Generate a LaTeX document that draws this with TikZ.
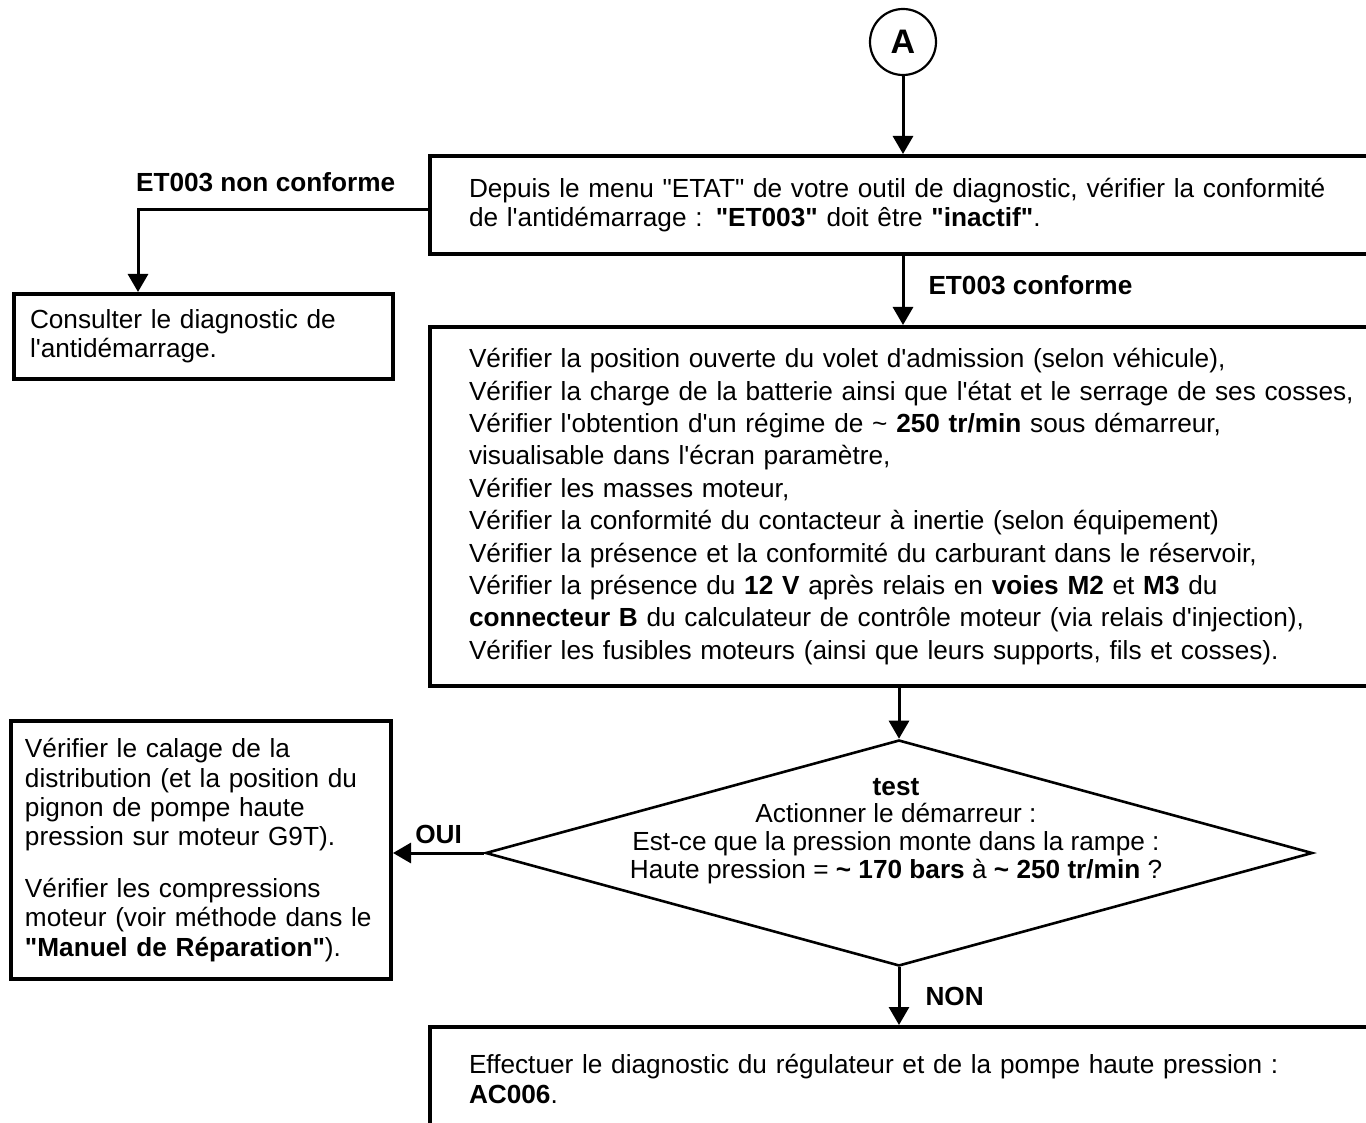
\documentclass[tikz,border=0pt]{standalone}
\usepackage{fontspec}
\setmainfont{Liberation Sans}[Ligatures=TeXOff]
\usetikzlibrary{arrows.meta,positioning,shapes.geometric}

\begin{document}
\begin{tikzpicture}[
  x=0.5pt, y=-0.5pt,
  font=\fontsize{13.1}{14.7}\selectfont,
  box/.style={draw, line width=2pt, anchor=north west, align=left, inner xsep=19.5pt, inner ysep=0pt, minimum width=519pt, text width=480pt},
  sidebox/.style={draw, line width=2pt, anchor=north west, align=left, inner ysep=0pt},
  decision/.style={diamond, draw, line width=1.3pt, minimum width=413.5pt, minimum height=113pt, inner sep=0pt},
  startnode/.style={circle, draw, line width=1.1pt, minimum size=33pt, inner sep=0pt, font=\fontsize{17}{20}\selectfont\bfseries},
  lbl/.style={font=\fontsize{13.1}{14.7}\selectfont\bfseries, inner sep=0pt},
  flow/.style={-{Triangle[width=10pt,length=9pt]}, line width=1.5pt}
]
\useasboundingbox (0,0) rectangle (1366,1123);
\clip (0,0) rectangle (1366,1123);

\node[startnode] (circA) at (903,42) {A};

\node[box, minimum height=49pt] (box1) at (428,154)
 {Depuis le menu "ETAT" de votre outil de diagnostic, vérifier la conformité\\
  de l'antidémarrage : \textbf{"ET003"} doit être \textbf{"inactif"}.};

\node[sidebox, minimum width=189.5pt, minimum height=42.5pt, inner xsep=8pt, text width=173.5pt] (box2) at (12,292)
 {Consulter le diagnostic de\\ l'antidémarrage.};

\node[box, minimum height=179.5pt, font=\fontsize{13.1}{16.2}\selectfont] (box3) at (428,325)
 {Vérifier la position ouverte du volet d'admission (selon véhicule),\\
  Vérifier la charge de la batterie ainsi que l'état et le serrage de ses cosses,\\
  Vérifier l'obtention d'un régime de \textasciitilde{} \textbf{250 tr/min} sous démarreur,\\
  visualisable dans l'écran paramètre,\\
  Vérifier les masses moteur,\\
  Vérifier la conformité du contacteur à inertie (selon équipement)\\
  Vérifier la présence et la conformité du carburant dans le réservoir,\\
  Vérifier la présence du \textbf{12 V} après relais en \textbf{voies M2} et \textbf{M3} du\\
  \textbf{connecteur B} du calculateur de contrôle moteur (via relais d'injection),\\
  Vérifier les fusibles moteurs (ainsi que leurs supports, fils et cosses).};

\node[decision] (test) at (899,853) {};
\node[align=center, inner sep=0pt, font=\fontsize{13.1}{13.85}\selectfont] (testtxt) at (896,831)
 {\textbf{test}\\
  Actionner le démarreur :\\
  Est-ce que la pression monte dans la rampe :\\
  Haute pression = \textbf{\textasciitilde{} 170 bars} à \textbf{\textasciitilde{} 250 tr/min} ?};

\node[sidebox, minimum width=190pt, minimum height=129pt, inner xsep=7pt, text width=176pt] (box4) at (9,719)
 {Vérifier le calage de la\\
  distribution (et la position du\\
  pignon de pompe haute\\
  pression sur moteur G9T).\\[11pt]
  Vérifier les compressions\\
  moteur (voir méthode dans le\\
  \textbf{"Manuel de Réparation"}).};

\node[box, minimum height=52pt] (box5) at (428,1025)
 {Effectuer le diagnostic du régulateur et de la pompe haute pression :\\
  \textbf{AC006}.};

\coordinate (nc) at (138,210);

\draw[flow] (circA) -- (circA |- box1.north);
\draw[flow] (box1.west |- nc) -- node[pos=0.56, above=8.5pt, lbl] {ET003 non conforme} (nc) -- (nc |- box2.north);
\draw[flow] (box1.south -| circA) -- node[pos=0.42, right=12pt, lbl] {ET003 conforme} (box3.north -| circA);
\draw[flow] (box3.south -| test) -- (test.north);
\draw[flow] (test.west) -- node[midway, above=4pt, lbl] {OUI} (test.west -| box4.east);
\draw[flow] (test.south) -- node[midway, right=12.5pt, lbl] {NON} (test.south |- box5.north);
\end{tikzpicture}
\end{document}
